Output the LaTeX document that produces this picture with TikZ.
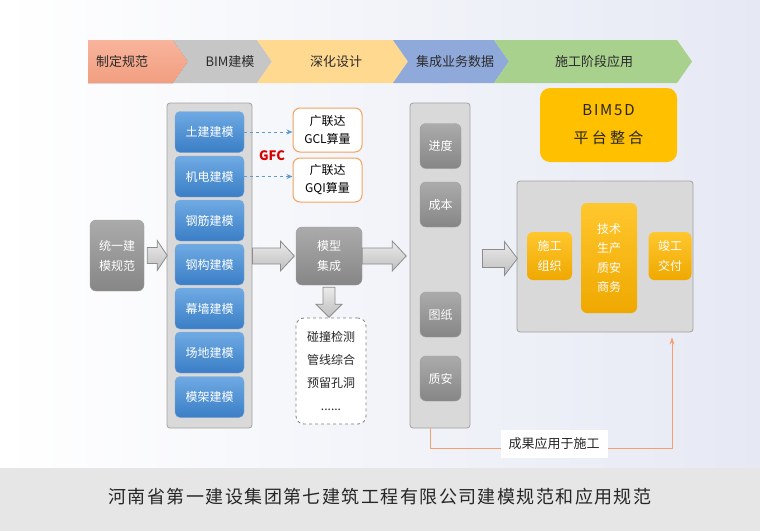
\documentclass[tikz,border=0pt]{standalone}
\usepackage{fontspec}
\setmainfont{Noto Sans CJK SC}
\usetikzlibrary{calc,arrows.meta}
\definecolor{bgR}{HTML}{E6E9F4}
\definecolor{capgray}{HTML}{E6E6E6}
\definecolor{pinkT}{HTML}{F8B49C}
\definecolor{pinkB}{HTML}{F29E80}
\definecolor{chgray}{HTML}{C6C6C6}
\definecolor{chyel}{HTML}{FFD990}
\definecolor{chblue}{HTML}{90A9DB}
\definecolor{chgreen}{HTML}{A9D18E}
\definecolor{blueT}{HTML}{6FAAE3}
\definecolor{blueB}{HTML}{3A7EC6}
\definecolor{blueD}{HTML}{3370B0}
\definecolor{grayT}{HTML}{ABABAB}
\definecolor{grayB}{HTML}{868686}
\definecolor{yT}{HTML}{FFC72E}
\definecolor{yB}{HTML}{EFA800}
\definecolor{bimY}{HTML}{FFC000}
\definecolor{panelF}{HTML}{D9D9D9}
\definecolor{panelD}{HTML}{A3A3A3}
\definecolor{orB}{HTML}{F2A25C}
\definecolor{orL}{HTML}{F4A06E}
\definecolor{dashB}{HTML}{5B9BD5}
\definecolor{txt}{HTML}{2B2B2B}
\newcommand{\mybarrow}[6]{%
  \begin{scope}[shift={#1}, rotate=#2]
    \draw[barrowsty] (0,-#4) -- (#3-#6,-#4) -- (#3-#6,-#5) -- (#3,0) -- (#3-#6,#5) -- (#3-#6,#4) -- (0,#4) -- cycle;
  \end{scope}}
\begin{document}
\begin{tikzpicture}[x=1pt,y=-1pt,
  chtext/.style={font=\fontsize{13}{15}\selectfont, text=txt},
  panel/.style={rounded corners=3pt, fill=panelF, draw=panelD, line width=0.8pt},
  bluebox/.style={rounded corners=5pt, top color=blueT, bottom color=blueB, draw=blueD!60, line width=0.4pt,
    minimum width=69pt, minimum height=41pt, text=white, font=\fontsize{12}{14}\selectfont},
  graybox/.style={rounded corners=6pt, top color=grayT, bottom color=grayB, draw=grayB!80, line width=0.4pt,
    text=white, font=\fontsize{12}{20}\selectfont, align=center},
  ybox/.style={rounded corners=6pt, top color=yT, bottom color=yB, draw=none,
    text=white, font=\fontsize{12}{19.5}\selectfont, align=center},
  obox/.style={rounded corners=7pt, fill=white, draw=orB, line width=1pt, minimum width=69pt, minimum height=44pt,
    text=black, font=\fontsize{12}{18}\selectfont, align=center},
  barrowsty/.style={top color=white!92!black, bottom color=white!75!black, draw=white!55!black, line width=0.8pt},
  dasharr/.style={dashB, dashed, line width=0.8pt, -{Stealth[length=6pt,width=5pt]}},
  orline/.style={orL, line width=1pt, -{Stealth[length=7pt,width=5pt]}}]
\useasboundingbox (0,0) rectangle (760,531);
% background
\shade[left color=white, right color=bgR] (0,0) rectangle (760,468);
\fill[capgray] (0,468) rectangle (760,531);
\node[font=\fontsize{18}{20}\selectfont, text=black!85] (cap) at (380,497) {\addfontfeatures{LetterSpace=8}河南省第一建设集团第七建筑工程有限公司建模规范和应用规范};
% chevron bar
\fill[top color=pinkT, bottom color=pinkB] (88,40) -- (173,40) -- (188,61.5) -- (173,83) -- (88,83) -- cycle;
\fill[chgray] (173,40) -- (257,40) -- (272,61.5) -- (257,83) -- (173,83) -- (188,61.5) -- cycle;
\fill[chyel] (257,40) -- (393,40) -- (408,61.5) -- (393,83) -- (257,83) -- (272,61.5) -- cycle;
\fill[chblue] (393,40) -- (494,40) -- (509,61.5) -- (494,83) -- (393,83) -- (408,61.5) -- cycle;
\fill[chgreen] (494,40) -- (677,40) -- (692,61.5) -- (677,83) -- (494,83) -- (509,61.5) -- cycle;
\node[chtext] (s1) at (122,61.5) {制定规范};
\node[chtext] (s2) at (230,61.5) {BIM建模};
\node[chtext] (s3) at (336,61.5) {深化设计};
\node[chtext] (s4) at (455,61.5) {集成业务数据};
\node[chtext] (s5) at (594,61.5) {施工阶段应用};
% BIM5D
\node[rounded corners=10pt, fill=bimY, minimum width=137pt, minimum height=74pt, align=center,
  font=\fontsize{15}{28}\selectfont, text=black!85] (bim) at (608.5,125)
  {\addfontfeatures{LetterSpace=12}BIM5D\\\addfontfeatures{LetterSpace=22}平台整合};
% left
\node[graybox, minimum width=54pt, minimum height=71pt] (norm) at (117,255.5) {统一建\\模规范};
\node[panel, minimum width=85pt, minimum height=325pt] (col) at (209.5,265.5) {};
\node[bluebox] (b1) at (209.5,132) {土建建模};
\node[bluebox] (b2) at (209.5,176.5) {机电建模};
\node[bluebox] (b3) at (209.5,220.5) {钢筋建模};
\node[bluebox] (b4) at (209.5,264.5) {钢构建模};
\node[bluebox] (b5) at (209.5,308.5) {幕墙建模};
\node[bluebox] (b6) at (209.5,352.5) {场地建模};
\node[bluebox] (b7) at (209.5,397) {模架建模};
\node[obox] (gcl) at (327.5,130) {广联达\\GCL算量};
\node[obox] (gqi) at (327.5,180) {广联达\\GQI算量};
\node[font=\fontsize{13}{15}\selectfont\bfseries, text=red!85!black] (gfc) at (272,156) {GFC};
\draw[dasharr] (b1.east) -- (gcl.west |- b1.east);
\draw[dasharr] (b2.east) -- (gqi.west |- b2.east);
% model integration
\node[graybox, minimum width=66pt, minimum height=58pt] (model) at (329,256) {模型\\集成};
\node[rounded corners=8pt, draw=white!50!black, dashed, line width=0.8pt, fill=white, minimum width=70pt, minimum height=106pt,
  align=center, font=\fontsize{12}{23}\selectfont, text=black!85] (chk) at (331,371)
  {碰撞检测\\管线综合\\预留孔洞\\......};
% middle panel
\node[panel, minimum width=60pt, minimum height=325pt] (mid) at (440,265.5) {};
\node[graybox, minimum width=41pt, minimum height=45pt] (m1) at (440.5,146) {进度};
\node[graybox, minimum width=41pt, minimum height=45pt] (m2) at (440.5,204.5) {成本};
\node[graybox, minimum width=41pt, minimum height=45pt] (m3) at (440.5,314.5) {图纸};
\node[graybox, minimum width=41pt, minimum height=45pt] (m4) at (440.5,378.5) {质安};
% right panel
\node[panel, minimum width=176pt, minimum height=151pt] (rp) at (605,256.5) {};
\node[ybox, minimum width=45pt, minimum height=48pt] (r1) at (549.5,256) {施工\\组织};
\node[ybox, minimum width=56pt, minimum height=110pt] (r2) at (609,258) {技术\\生产\\质安\\商务};
\node[ybox, minimum width=43pt, minimum height=48pt] (r3) at (670,256) {竣工\\交付};
% block arrows
\mybarrow{($(norm.east)+(3,0)$)}{0}{20}{8}{15}{10}
\mybarrow{(col.east |- model.west)}{0}{42}{8}{15}{14}
\mybarrow{(model.east)}{0}{44}{8}{15}{14}
\mybarrow{($(mid.east |- rp.west)+(12,2)$)}{0}{35}{9}{17}{13}
\mybarrow{($(model.south)+(0,2)$)}{-90}{30}{6}{13}{13}
% result line
\coordinate (lstart) at ($(mid.south)+(-10,0)$);
\coordinate (lend) at ($(rp.south)+(67,5)$);
\draw[orline] (lstart) -- ++(0,20) -| (lend);
\node[fill=white, minimum width=107pt, minimum height=28pt, font=\fontsize{13}{15}\selectfont, text=black!85] (res) at (554,444) {成果应用于施工};
\end{tikzpicture}
\end{document}
